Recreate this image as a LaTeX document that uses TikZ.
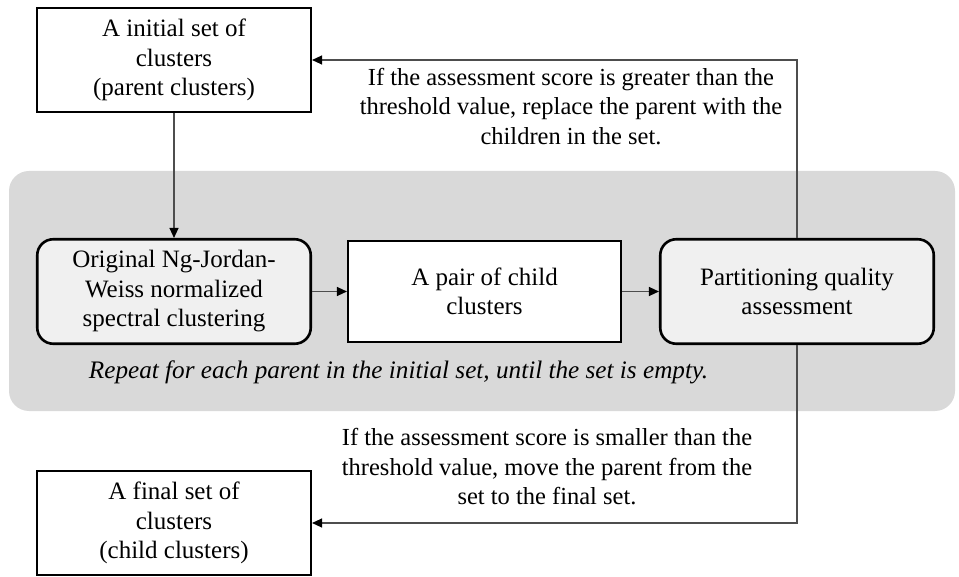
\documentclass[tikz,border=0pt]{standalone}
\usepackage{fontspec}
\setmainfont{Liberation Serif}
\usetikzlibrary{arrows.meta}
\definecolor{panelgray}{HTML}{D9D9D9}
\definecolor{stepfill}{HTML}{F0F0F0}
\definecolor{wire}{HTML}{4D4D4D}
\begin{document}
\begin{tikzpicture}[x=1pt,y=-1pt,
  txt/.style={font=\fontsize{25}{29.5}\selectfont, align=center, inner sep=0pt},
  labeltxt/.style={font=\fontsize{24.5}{29.5}\selectfont, align=center, inner sep=0pt},
  plainbox/.style={txt, draw=black, line width=1.6pt, fill=white,
    minimum width=274.5pt, minimum height=104.5pt},
  roundbox/.style={txt, draw=black, line width=2.6pt, fill=stepfill,
    rounded corners=16pt, minimum width=273.5pt, minimum height=104.5pt},
  wireline/.style={draw=wire, line width=1.2pt,
    -{Triangle[length=10pt,width=9pt,color=black]}}]
\useasboundingbox (0,0) rectangle (959,577);

% shaded loop region
\fill[panelgray, rounded corners=20pt] (9,171) rectangle (955,411);

% boxes
\node[plainbox] (initial) at (174,60) {A initial set of\\clusters\\(parent clusters)};
\node[roundbox] (njw) at (174,291.5) {Original Ng-Jordan-\\Weiss normalized\\spectral clustering};
\node[plainbox, minimum width=273.5pt, minimum height=101.5pt] (pair) at (484.5,291.5) {A pair of child\\clusters};
\node[roundbox] (pqa) at (797,291.5) {Partitioning quality\\assessment};
\node[plainbox] (final) at (174,523) {A final set of\\clusters\\(child clusters)};

% loop note
\node[txt, font=\fontsize{25.2}{29.5}\selectfont\itshape, anchor=base] (note) at (398.5,378)
  {Repeat for each parent in the initial set, until the set is empty.};

% decision labels
\node[labeltxt] (uplabel) at (571,106.5)
  {If the assessment score is greater than the\\threshold value, replace the parent with the\\children in the set.};
\node[labeltxt] (downlabel) at (547,467)
  {If the assessment score is smaller than the\\threshold value, move the parent from the\\set to the final set.};

% connectors
\draw[wireline] (initial.south) -- (njw.north);
\draw[wireline] (njw.east) -- (pair.west);
\draw[wireline] (pair.east) -- (pqa.west);
\draw[wireline] (pqa.north) |- (initial.east);
\draw[wireline] (pqa.south) |- (final.east);
\end{tikzpicture}
\end{document}
